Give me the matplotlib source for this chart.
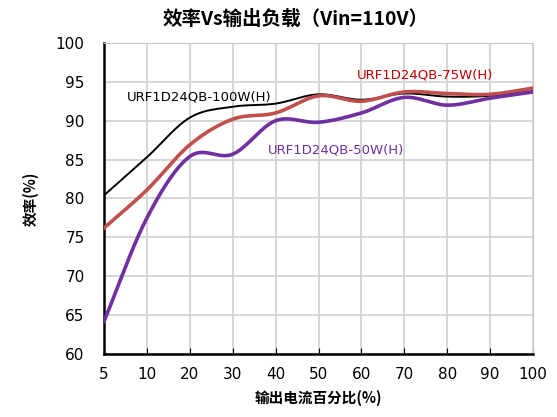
import numpy as np
import matplotlib
matplotlib.use("Agg")
import matplotlib.pyplot as plt

plt.rcParams['font.family'] = ['DejaVu Sans', 'Noto Sans CJK SC']

load = ["5", "10", "20", "30", "40", "50", "60", "70", "80", "90", "100"]
eff_100w = [80.4, 85.3, 90.4, 91.8, 92.2, 93.4, 92.7, 93.5, 93.1, 93.2, 93.8]
eff_75w = [76.2, 81.1, 86.9, 90.2, 91.0, 93.2, 92.5, 93.7, 93.5, 93.4, 94.2]
eff_50w = [64.2, 77.5, 85.4, 85.7, 90.0, 89.8, 91.0, 93.0, 92.0, 92.9, 93.7]


def smooth(y, n=20):
    # Catmull-Rom curve through the points, like Excel's smoothed line
    y = np.asarray(y, float)
    x = np.arange(len(y), dtype=float)
    px = np.concatenate([[2 * x[0] - x[1]], x, [2 * x[-1] - x[-2]]])
    py = np.concatenate([[2 * y[0] - y[1]], y, [2 * y[-1] - y[-2]]])
    xs, ys = [], []
    t = np.linspace(0, 1, n, endpoint=False)
    for i in range(1, len(px) - 2):
        for p, out in ((px, xs), (py, ys)):
            p0, p1, p2, p3 = p[i - 1], p[i], p[i + 1], p[i + 2]
            out.extend(0.5 * (2 * p1 + (-p0 + p2) * t
                              + (2 * p0 - 5 * p1 + 4 * p2 - p3) * t ** 2
                              + (-p0 + 3 * p1 - 3 * p2 + p3) * t ** 3))
    xs.append(x[-1])
    ys.append(y[-1])
    return np.array(xs), np.array(ys)


fig = plt.figure(figsize=(5.57, 4.17), dpi=100)
ax = fig.add_axes([0.1867, 0.151, 0.7703, 0.746])

ax.plot(*smooth(eff_100w), color="black", lw=1.4, zorder=3)
ax.plot(*smooth(eff_75w), color="#C0504D", lw=2.6, zorder=4)
ax.plot(*smooth(eff_50w), color="#7030A0", lw=2.6, zorder=5)

ax.set_xlim(0, len(load) - 1)
ax.set_ylim(60, 100)
ax.set_xticks(range(len(load)))
ax.set_xticklabels(load)
ax.set_yticks(range(60, 101, 5))
ax.grid(True, color="#D0D0D0", lw=1.2)
ax.set_axisbelow(True)
ax.tick_params(axis="x", direction="in", length=4, labelsize=11, pad=9)
ax.tick_params(axis="y", length=0, labelsize=11, pad=14)

for s in ("top", "right"):
    ax.spines[s].set_color("#C8C8C8")
for s in ("left", "bottom"):
    ax.spines[s].set_color("black")
    ax.spines[s].set_linewidth(1.8)

cjk = ['Noto Sans CJK SC', 'DejaVu Sans']
fig.text(0.53, 0.955, "效率Vs输出负载（Vin=110V）", ha="center", va="center",
         fontsize=14, fontweight="bold", family=cjk)
ax.set_xlabel("输出电流百分比(%)", fontsize=10.5, fontweight="bold", family=cjk, labelpad=6)
ax.set_ylabel("效率(%)", fontsize=10.5, fontweight="bold", family=cjk, labelpad=12)

ax.text(0.54, 93.05, "URF1D24QB-100W(H)", color="black", fontsize=9.5, va="center")
ax.text(5.9, 95.9, "URF1D24QB-75W(H)", color="#C00000", fontsize=9.5, va="center")
ax.text(3.82, 86.2, "URF1D24QB-50W(H)", color="#7030A0", fontsize=9.5, va="center")

fig.savefig("out.png", dpi=100)
